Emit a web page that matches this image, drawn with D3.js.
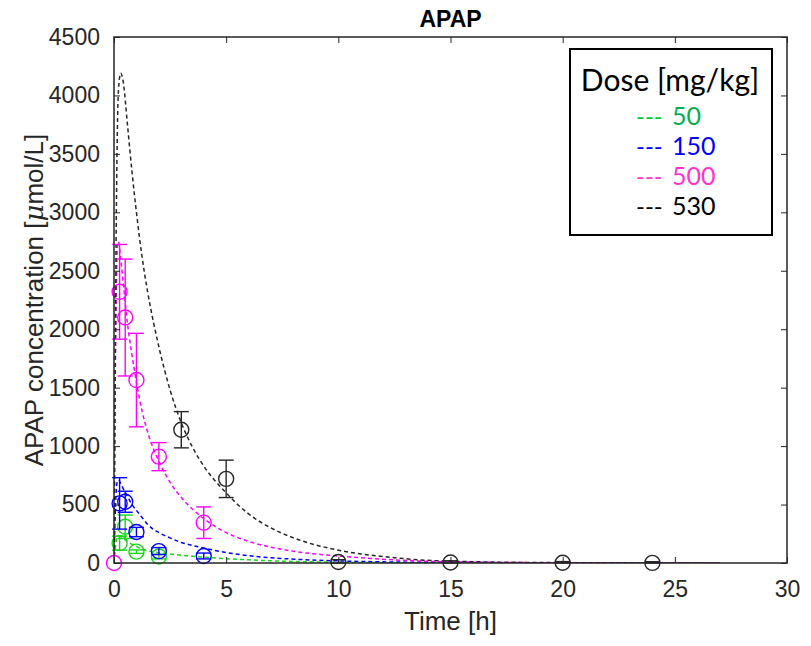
<!DOCTYPE html>
<html>
<head>
<meta charset="utf-8">
<script src="https://cdn.jsdelivr.net/npm/d3@7"></script>
<style>
  html, body { margin: 0; padding: 0; background: #fff; }
  svg { display: block; }
</style>
</head>
<body>
<svg id="chart" width="811" height="646"></svg>
<script>
// ---------------- data ----------------
const doses = ["50", "150", "500", "530"];
const lineColors = ["#16d816", "#0000ff", "#ff00ff", "#262626"];
const legendTextColors = ["#00b050", "#0000ff", "#ff33cc", "#000000"];
const legendDashColors = ["#00cc33", "#0000ff", "#ff33cc", "#000000"];

const xTicks = [0, 5, 10, 15, 20, 25, 30];
const yTicks = [0, 500, 1000, 1500, 2000, 2500, 3000, 3500, 4000, 4500];

// observed data (mean ± sd)
const obsTime50 = [0.25, 0.5, 1, 2];
const obsConc50 = [170, 310, 97, 55];
const obsErr50 = [60, 100, 15, 20];

const obsTime150 = [0.25, 0.5, 1, 2, 4];
const obsConc150 = [510, 524, 265, 102, 60];
const obsErr150 = [220, 90, 40, 30, 25];

const obsTime500 = [0, 0.25, 0.5, 1, 2, 4];
const obsConc500 = [0, 2320, 2100, 1565, 910, 345];
const obsErr500 = [0, 405, 500, 400, 120, 135];

const obsTime530 = [3, 5, 10, 15, 20, 24];
const obsConc530 = [1140, 720, 8, 4, 2, 1];
const obsErr530 = [155, 160, 20, 15, 10, 10];

// model simulations
const modelTime = [0, 0.05, 0.1, 0.15, 0.2, 0.3, 0.4, 0.6, 0.8, 1, 1.25, 1.5, 2, 2.5, 3, 3.5, 4, 5, 6, 7, 8, 10, 12, 15, 20, 27];
const model50 = [0, 110, 190, 225, 235, 225, 210, 185, 160, 140, 120, 105, 88, 76, 66, 57, 50, 37, 27, 19, 13, 6, 3, 1, 0, 0];
const model150 = [0, 380, 620, 700, 710, 680, 640, 570, 500, 450, 390, 330, 260, 215, 175, 150, 128, 90, 62, 45, 33, 18, 10, 4, 1, 0];
const model500 = [0, 1400, 2300, 2700, 2750, 2600, 2420, 2050, 1780, 1550, 1300, 1120, 870, 690, 560, 460, 380, 260, 185, 135, 100, 60, 32, 10, 2, 0];
const model530 = [0, 1600, 2900, 3700, 4050, 4190, 4130, 3750, 3350, 3000, 2620, 2320, 1850, 1480, 1200, 990, 830, 600, 420, 300, 215, 110, 55, 15, 3, 0];

// ---------------- build ----------------
const obs = [
  {t: obsTime50, c: obsConc50, e: obsErr50},
  {t: obsTime150, c: obsConc150, e: obsErr150},
  {t: obsTime500, c: obsConc500, e: obsErr500},
  {t: obsTime530, c: obsConc530, e: obsErr530}
];
const models = [model50, model150, model500, model530];

const svg = d3.select("#chart");
const L = 114, R = 787, T = 37, B = 563;
const x = d3.scaleLinear().domain([0, 30]).range([L, R]);
const y = d3.scaleLinear().domain([0, 4500]).range([B, T]);
const axisColor = "#262626";
const font = "'Liberation Sans', Arial, Helvetica, sans-serif";

// clip
svg.append("defs").append("clipPath").attr("id", "clip")
  .append("rect").attr("x", L).attr("y", T).attr("width", R - L).attr("height", B - T);

// model lines
const line = d3.line().x(d => x(d[0])).y(d => y(d[1])).curve(d3.curveMonotoneX);
const gLines = svg.append("g").attr("clip-path", "url(#clip)");
models.forEach((m, i) => {
  const pts = modelTime.map((t, k) => [t, m[k]]);
  gLines.append("path").attr("d", line(pts))
    .attr("fill", "none").attr("stroke", lineColors[i])
    .attr("stroke-width", 1.5).attr("stroke-dasharray", "4,3");
});

// observations
const capW = 7.5, rad = 7.5;
obs.forEach((o, i) => {
  const g = svg.append("g").attr("stroke", lineColors[i]).attr("fill", "none").attr("stroke-width", 1.4);
  o.t.forEach((t, k) => {
    const cx = x(t), cy = y(o.c[k]);
    const yt = y(o.c[k] + o.e[k]), yb = y(Math.max(0, o.c[k] - o.e[k]));
    if (o.e[k] > 0) {
      g.append("line").attr("x1", cx).attr("x2", cx).attr("y1", yt).attr("y2", yb);
      g.append("line").attr("x1", cx - capW).attr("x2", cx + capW).attr("y1", yt).attr("y2", yt);
      g.append("line").attr("x1", cx - capW).attr("x2", cx + capW).attr("y1", yb).attr("y2", yb);
    }
    g.append("circle").attr("cx", cx).attr("cy", cy).attr("r", rad);
  });
});

// axes box
svg.append("rect").attr("x", L).attr("y", T).attr("width", R - L).attr("height", B - T)
  .attr("fill", "none").attr("stroke", axisColor).attr("stroke-width", 1.5);

const xAxisB = d3.axisBottom(x).tickValues(xTicks).tickSize(-6).tickPadding(18).tickFormat(d3.format("d"));
const xAxisT = d3.axisTop(x).tickValues(xTicks).tickSize(-6).tickFormat("");
const yAxisL = d3.axisLeft(y).tickValues(yTicks).tickSize(-6).tickPadding(14).tickFormat(d3.format("d"));
const yAxisR = d3.axisRight(y).tickValues(yTicks).tickSize(-6).tickFormat("");

function styleAxis(g) {
  g.select(".domain").remove();
  g.selectAll(".tick line").attr("stroke", axisColor).attr("stroke-width", 1);
  g.selectAll(".tick text").attr("fill", axisColor).style("font-family", font).style("font-size", "23px");
}
svg.append("g").attr("transform", `translate(0,${B})`).call(xAxisB).call(styleAxis);
svg.append("g").attr("transform", `translate(0,${T})`).call(xAxisT).call(styleAxis);
svg.append("g").attr("transform", `translate(${L},0)`).call(yAxisL).call(styleAxis);
svg.append("g").attr("transform", `translate(${R},0)`).call(yAxisR).call(styleAxis);

// title & labels
svg.append("text").attr("x", (L + R) / 2).attr("y", 27).attr("text-anchor", "middle")
  .style("font-family", font).style("font-size", "23px").style("font-weight", "bold")
  .attr("fill", "#000").text("APAP");

svg.append("text").attr("x", (L + R) / 2).attr("y", 630).attr("text-anchor", "middle")
  .style("font-family", font).style("font-size", "26px").attr("fill", axisColor).text("Time [h]");

const yl = svg.append("text").attr("transform", `translate(43,${(T + B) / 2}) rotate(-90)`)
  .attr("text-anchor", "middle").style("font-family", font).style("font-size", "26px").attr("fill", axisColor);
yl.append("tspan").text("APAP concentration [");
yl.append("tspan").style("font-style", "italic").style("font-family", "'DejaVu Serif', serif").text("μ");
yl.append("tspan").text("mol/L]");

// legend
const lg = svg.append("g");
lg.append("rect").attr("x", 570).attr("y", 49).attr("width", 202).attr("height", 186)
  .attr("fill", "#fff").attr("stroke", "#000").attr("stroke-width", 2);
const lfont = "Lato, 'Open Sans', sans-serif";
lg.append("text").attr("x", 670).attr("y", 91).attr("text-anchor", "middle")
  .style("font-family", lfont).style("font-size", "30px").attr("fill", "#000").text("Dose [mg/kg]");
doses.forEach((d, i) => {
  lg.append("text").attr("x", 636).attr("y", 125 + i * 30)
    .style("font-family", lfont).style("font-size", "24px")
    .attr("fill", legendDashColors[i]).text("---");
  lg.append("text").attr("x", 672).attr("y", 125 + i * 30)
    .style("font-family", lfont).style("font-size", "25px")
    .attr("fill", legendTextColors[i]).text(d);
});
</script>
</body>
</html>
